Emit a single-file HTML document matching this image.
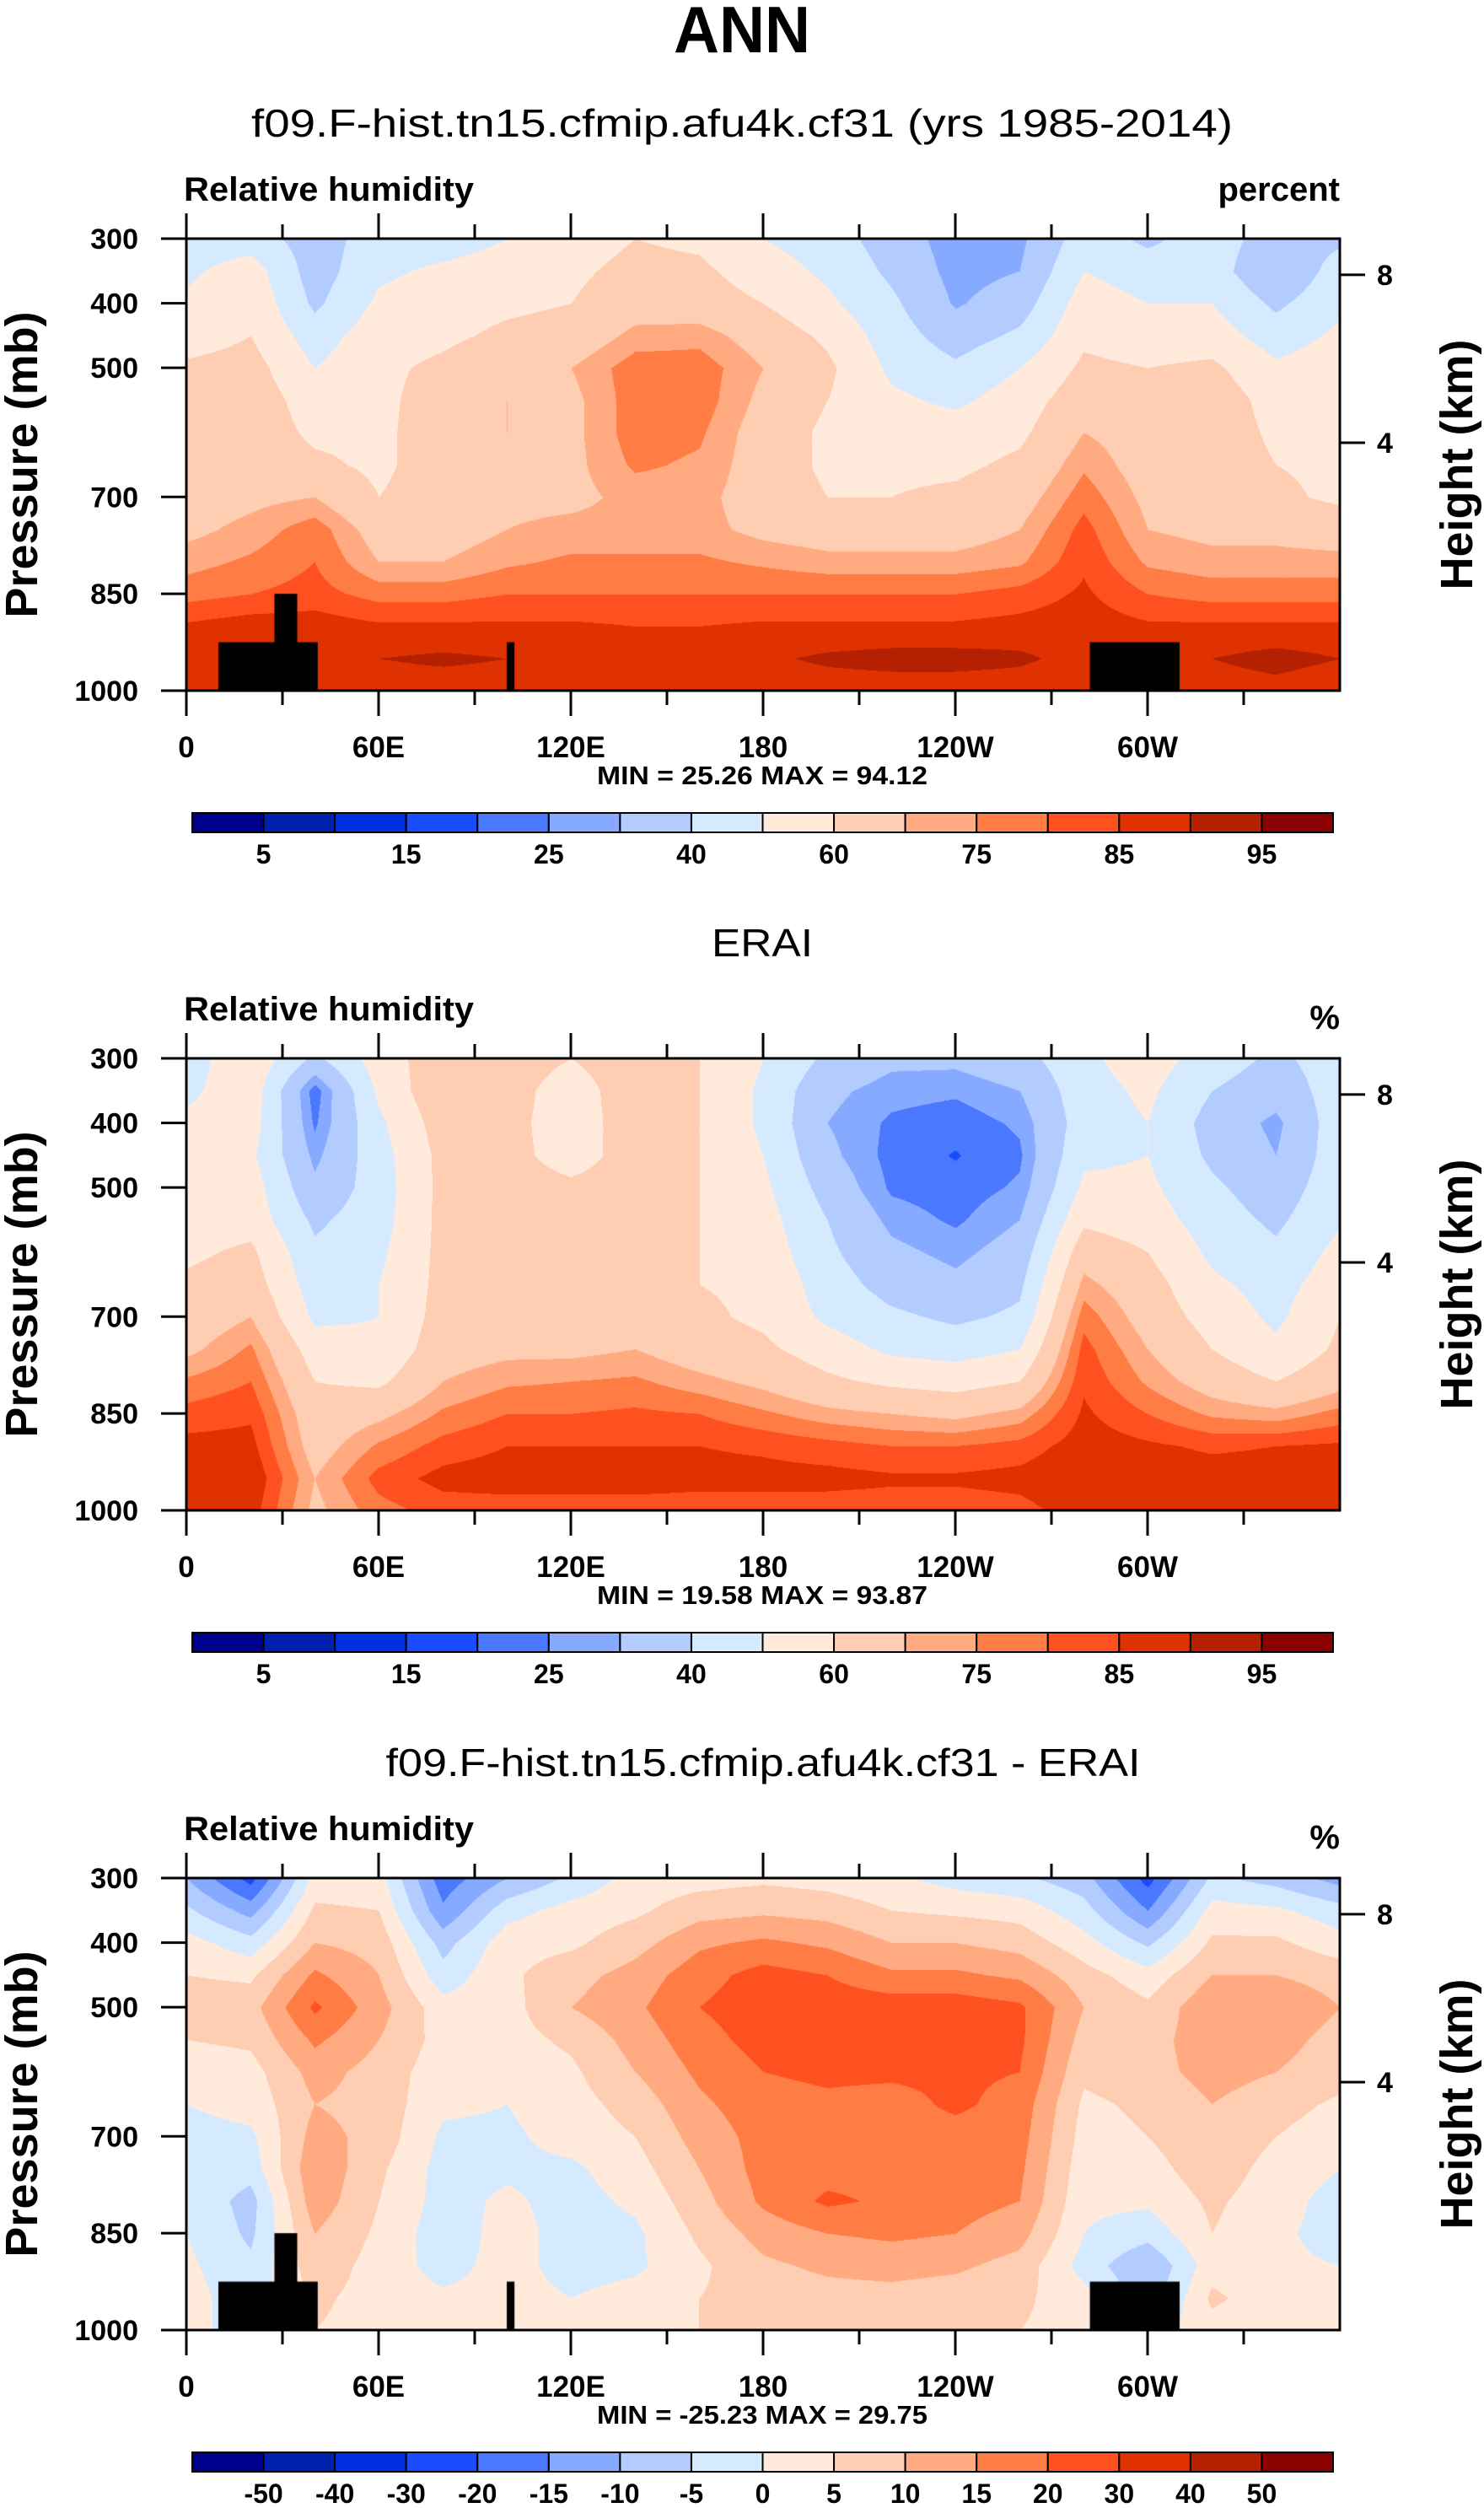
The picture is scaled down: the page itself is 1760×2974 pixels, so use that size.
<!DOCTYPE html>
<html>
<head>
<meta charset="utf-8">
<style>
html,body{margin:0;padding:0;background:#fff;}
#root{position:relative;width:1760px;height:2974px;overflow:hidden;background:#fff;}
canvas{position:absolute;}
svg{position:absolute;left:0;top:0;}
text{font-family:"Liberation Sans",Arial,sans-serif;}
</style>
</head>
<body>
<div id="root">
<canvas id="c1" width="1368" height="536" style="left:221px;top:283px"></canvas>
<canvas id="c2" width="1368" height="536" style="left:221px;top:1255px"></canvas>
<canvas id="c3" width="1368" height="536" style="left:221px;top:2227px"></canvas>
<svg id="ov" width="1760" height="2974" xmlns="http://www.w3.org/2000/svg">
<text x="880" y="62" text-anchor="middle" font-size="78" font-weight="bold" textLength="162" lengthAdjust="spacingAndGlyphs">ANN</text>
</svg>
</div>
<script>
// ---- data ----
const lons = [0,20,40,60,80,100,120,140,160,180,200,220,240,260,280,300,320,340,360];
const plevs = [300,350,400,450,500,550,600,650,700,750,800,850,900,950,1000];
// each row = one longitude column, values from 300mb down to 1000mb
const modelRH = [
[45,48,52,55,62,65,65,66,66,68,73,78,86,90,86],
[45,55,58,60,64,66,66,66,68,72,76,80,88,89,88],
[35,35,38,45,50,55,58,62,70,78,80,82,88,88,88],
[45,48,52,56,58,58,58,58,60,66,70,78,86,90,87],
[45,52,56,58,62,64,65,65,65,66,70,78,86,91,87],
[50,55,58,62,68,70,70,68,68,70,74,80,86,90,87],
[55,58,60,64,70,68,68,68,68,72,76,80,86,90,87],
[60,63,66,72,78,78,78,76,72,72,76,80,85,89,86],
[58,62,65,73,78,78,76,74,72,72,76,80,85,88,86],
[50,55,60,66,70,68,66,66,66,68,74,80,86,89,86],
[45,48,52,58,62,60,58,58,60,66,72,80,86,91,87],
[35,38,42,45,48,52,55,58,60,66,72,80,86,92,87],
[26,27,29,35,42,48,55,58,62,66,72,80,86,92,87],
[28,30,35,42,50,55,58,62,66,70,74,82,87,91,87],
[45,50,55,58,62,66,70,74,78,82,84,86,88,88,86],
[38,45,50,55,60,64,66,66,68,70,74,80,86,87,86],
[45,45,50,55,62,66,66,66,66,68,72,78,86,90,87],
[35,30,38,45,52,56,58,60,62,68,72,78,86,92,88],
[38,45,48,52,56,58,60,58,58,66,72,78,86,90,86]
];
const eraiRH = [
[45,48,52,55,55,55,58,62,64,68,76,82,87,90,88],
[58,56,55,52,55,56,62,65,70,76,80,84,87,90,88],
[38,22,24,28,32,38,42,45,48,55,60,64,66,70,68],
[55,52,48,46,45,46,48,50,50,52,58,68,76,82,78],
[66,68,65,63,63,63,63,63,64,66,70,76,82,87,82],
[65,64,63,63,64,64,64,64,65,68,74,80,85,88,82],
[60,55,55,56,62,64,64,64,65,68,75,80,85,88,82],
[66,66,65,64,64,64,64,64,65,70,76,81,85,88,82],
[60,60,60,60,60,60,60,60,62,65,72,80,85,87,82],
[50,48,48,50,52,54,56,58,58,62,68,76,84,87,82],
[38,32,30,32,36,40,42,45,48,55,62,72,82,87,82],
[32,27,24,23,24,28,32,36,42,48,58,70,80,86,82],
[32,26,22,19.6,22,24,28,32,38,46,56,68,80,86,82],
[36,30,26,24,26,30,34,38,42,50,60,72,82,87,83],
[48,46,45,48,52,58,66,72,78,82,84,86,88,90,88],
[55,52,50,50,52,55,60,64,66,70,74,80,86,89,86],
[45,40,36,38,42,45,48,52,56,60,66,74,84,88,86],
[38,34,28,30,34,38,42,46,48,52,60,72,85,88,86],
[45,45,46,46,47,49,53,56,60,62,67,77,86,89,87]
];
const diffRH = [
[-10,-4,2,5,8,5,2,0,-2,-1,-1,0,1,2,2],
[-22,-12,-3,4,8,6,3,2,-1,-3,-7,-6,-4,-3,-3],
[2,6,10,16,21,16,12,10,12,14,13,10,8,6,5],
[2,5,8,10,12,10,8,8,8,6,5,4,3,3,3],
[-18,-14,-7,-3,2,3,2,1,-1,-2,-2,-3,-2,1,2],
[-10,-2,3,4,3,3,2,0,-1,-1,1,2,2,2,2],
[-4,2,4,8,10,6,4,3,2,-1,-2,-2,-2,0,1],
[2,4,8,12,14,12,10,7,5,3,1,-1,-1,2,3],
[3,8,14,18,20,18,16,14,12,10,8,6,4,5,5],
[4,9,16,22,23,22,20,18,17,17,16,12,9,7,7],
[3,8,14,20,23,22,21,19,18,18,21,15,11,8,7],
[1,5,10,16,23,22,21,18,18,18,19,16,12,8,7],
[-2,4,10,16,23,22,21,21,18,18,17,15,11,7,6],
[-4,3,8,14,21,21,20,18,17,16,15,12,8,6,5],
[-8,-3,2,7,10,8,6,4,3,2,1,0,-2,2,3],
[-22,-15,-6,2,6,8,8,6,5,3,1,-3,-10,-8,-2],
[-4,2,6,10,14,13,12,10,9,8,6,5,3,6,3],
[-7,1,6,10,14,12,10,7,5,3,2,1,1,2,2],
[-12,-3,2,8,10,8,7,4,2,0,-2,-2,0,1,1]
];
const rhLevels = [5,10,15,20,25,30,40,50,60,70,75,80,85,90,95];
const diffLevels = [-50,-40,-30,-20,-15,-10,-5,0,5,10,15,20,30,40,50];
const rhLabels = ["5","15","25","40","60","75","85","95"];
const diffLabels = ["-50","-40","-30","-20","-15","-10","-5","0","5","10","15","20","30","40","50"];
const lonTickVals = [0,60,120,180,240,300];
const lonTickLabels = ["0","60E","120E","180","120W","60W"];
const presTicks = [300,400,500,700,850,1000];
const heightTicks = [8,4];
const heightTickPres = [356,616];
// topography masks
const mountainLon0 = [10,27.5,100,282];
const mountainLon1 = [41,34.6,102.4,310];
const mountainTop = [925,850,925,925];
const palette = ["#00008f","#0020b0","#0030e0","#1a4cff","#4a78ff","#85aaff","#b3ccff","#d6eaff","#ffeadb","#ffcdb2","#ffaa80","#ff7c45","#ff5020","#e03200","#b52000","#8b0000"];

// ---- geometry ----
const FX=221, FW=1368, FH=536;
const tops=[283,1255,2227];
function xOf(lon){return FX + lon/360*FW;}
function yOf(top,p){return top + (p-300)/700*FH;}
function hex(c){return [parseInt(c.substr(1,2),16),parseInt(c.substr(3,2),16),parseInt(c.substr(5,2),16)];}
const palRGB = palette.map(hex);

function sample(grid,lon,p){
  let i=Math.min(lons.length-2,Math.floor(lon/20)); let fx=(lon-lons[i])/20;
  let j=Math.min(plevs.length-2,Math.floor((p-300)/50)); let fy=(p-plevs[j])/50;
  const a=grid[i][j],b=grid[i+1][j],c=grid[i][j+1],d=grid[i+1][j+1];
  return a*(1-fx)*(1-fy)+b*fx*(1-fy)+c*(1-fx)*fy+d*fx*fy;
}
function levelIndex(v,levels){let k=0;while(k<levels.length&&v>=levels[k])k++;return k;}

function drawPanel(id,grid,levels,masks){
  const cv=document.getElementById(id); const ctx=cv.getContext('2d');
  const img=ctx.createImageData(FW,FH);
  for(let py=0;py<FH;py++){
    const p=300+py/FH*700;
    for(let px=0;px<FW;px++){
      const lon=px/FW*360;
      const col=palRGB[levelIndex(sample(grid,lon,p),levels)];
      const o=(py*FW+px)*4; img.data[o]=col[0];img.data[o+1]=col[1];img.data[o+2]=col[2];img.data[o+3]=255;
    }
  }
  ctx.putImageData(img,0,0);
  if(masks){
    ctx.fillStyle="#000";
    for(let m=0;m<mountainLon0.length;m++){
      const x0=mountainLon0[m]/360*FW,x1=mountainLon1[m]/360*FW,y0=(mountainTop[m]-300)/700*FH;
      ctx.fillRect(x0,y0,x1-x0,FH-y0);
    }
  }
}
drawPanel('c1',modelRH,rhLevels,true);
drawPanel('c2',eraiRH,rhLevels,false);
drawPanel('c3',diffRH,diffLevels,true);

// ---- overlay ----
const NS="http://www.w3.org/2000/svg"; const ov=document.getElementById('ov');
function mk(tag,attrs,txt){const e=document.createElementNS(NS,tag);for(const k in attrs)e.setAttribute(k,attrs[k]);if(txt!==undefined)e.textContent=txt;ov.appendChild(e);return e;}
const titles=["f09.F-hist.tn15.cfmip.afu4k.cf31 (yrs 1985-2014)","ERAI","f09.F-hist.tn15.cfmip.afu4k.cf31 - ERAI"];
const titleLens=[1164,120,895];
const titleX=[880,904,905];
const units=["percent","%","%"];
const minmax=["MIN =  25.26  MAX =  94.12","MIN =  19.58  MAX =  93.87","MIN = -25.23  MAX =  29.75"];
for(let k=0;k<3;k++){
  const T=tops[k];
  let e=mk('text',{x:titleX[k],y:T-121,'text-anchor':'middle','font-size':46,textLength:titleLens[k],lengthAdjust:'spacingAndGlyphs'});e.textContent=titles[k];
  
  
  e=mk('text',{x:218,y:T-45,'font-size':40,'font-weight':'bold',textLength:344,lengthAdjust:'spacingAndGlyphs'},"Relative humidity");
  
  
  e=mk('text',{x:1589,y:T-45+(k?10:0),'text-anchor':'end','font-size':40,'font-weight':'bold'},units[k]);
  
  
  e=mk('rect',{x:FX,y:T,width:FW,height:FH,fill:'none',stroke:'#000','stroke-width':3});
  
  
  for(let i=0;i<presTicks.length;i++){
    const y=yOf(T,presTicks[i]);
    e=mk('line',{x1:FX-30,x2:FX,y1:y,y2:y,stroke:'#000','stroke-width':3});
    
    
    e=mk('text',{x:164,y:y+12,'text-anchor':'end','font-size':34,'font-weight':'bold'},String(presTicks[i]));
    
    
  }
  for(let i=0;i<heightTicks.length;i++){
    const y=yOf(T,heightTickPres[i]);
    e=mk('line',{x1:FX+FW,x2:FX+FW+30,y1:y,y2:y,stroke:'#000','stroke-width':3});
    
    
    e=mk('text',{x:1633,y:y+12,'font-size':34,'font-weight':'bold'},String(heightTicks[i]));
    
    
  }
  for(let lon=0;lon<360;lon+=30){
    const x=xOf(lon); const major=(lon%60===0); const L=major?30:17;
    e=mk('line',{x1:x,x2:x,y1:T-L,y2:T,stroke:'#000','stroke-width':3});
    
    
    e=mk('line',{x1:x,x2:x,y1:T+FH,y2:T+FH+L,stroke:'#000','stroke-width':3});
    
    
  }
  for(let i=0;i<lonTickVals.length;i++){
    e=mk('text',{x:xOf(lonTickVals[i]),y:T+FH+79,'text-anchor':'middle','font-size':35,'font-weight':'bold'},lonTickLabels[i]);
    
    
  }
  e=mk('text',{x:904,y:T+FH+111,'text-anchor':'middle','font-size':31,'font-weight':'bold',textLength:392,lengthAdjust:'spacingAndGlyphs'},minmax[k]);
  
  
  e=mk('text',{transform:'translate(44,'+(T+FH/2)+') rotate(-90)','text-anchor':'middle','font-size':54,'font-weight':'bold'},"Pressure (mb)");
  
  
  e=mk('text',{transform:'translate(1746,'+(T+FH/2)+') rotate(-90)','text-anchor':'middle','font-size':54,'font-weight':'bold'},"Height (km)");
  
  
  // colorbar
  const cbY=T+681, cbX0=228, cbX1=1581, bw=(cbX1-cbX0)/16;
  for(let b=0;b<16;b++){
    e=mk('rect',{x:cbX0+b*bw,y:cbY,width:bw,height:23,fill:palette[b],stroke:'#000','stroke-width':2});
    
    
  }
  const labs = k<2 ? rhLabels : diffLabels;
  const stepB = k<2 ? 2 : 1;
  for(let i=0;i<labs.length;i++){
    const bnd=1+i*stepB;
    e=mk('text',{x:cbX0+bnd*bw,y:cbY+60,'text-anchor':'middle','font-size':32,'font-weight':'bold'},labs[i]);
    
    
  }
}
</script>
</body>
</html>
